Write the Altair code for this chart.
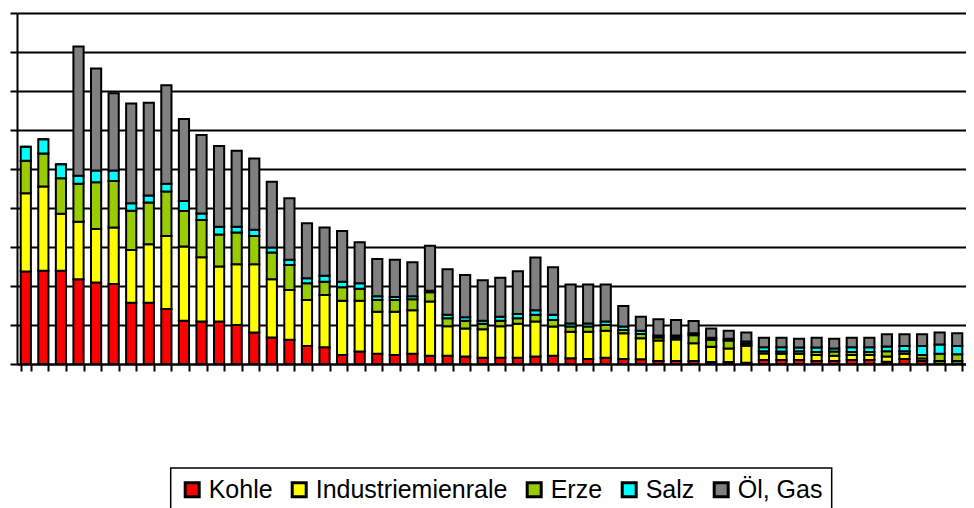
import altair as alt
import pandas as pd

kohle = [2.37, 2.39, 2.39, 2.17, 2.09, 2.05, 1.57, 1.57, 1.41, 1.11,
         1.09, 1.09, 1.00, 0.81, 0.68, 0.62, 0.46, 0.43, 0.23, 0.32,
         0.26, 0.23, 0.26, 0.21, 0.21, 0.19, 0.16, 0.16, 0.16, 0.19,
         0.21, 0.15, 0.13, 0.16, 0.13, 0.12, 0.08, 0.08, 0.08, 0.05,
         0.05, 0.03, 0.10, 0.10, 0.10, 0.08, 0.08, 0.10, 0.10, 0.06,
         0.13, 0.08, 0.01, 0.01]
industrie = [2.01, 2.16, 1.46, 1.48, 1.37, 1.45, 1.35, 1.50, 1.87, 1.90,
             1.65, 1.41, 1.56, 1.75, 1.49, 1.28, 1.18, 1.34, 1.39, 1.30,
             1.08, 1.11, 1.12, 1.39, 0.76, 0.72, 0.73, 0.81, 0.87, 0.90,
             0.75, 0.68, 0.70, 0.69, 0.66, 0.54, 0.52, 0.55, 0.45, 0.39,
             0.35, 0.44, 0.17, 0.16, 0.16, 0.15, 0.13, 0.13, 0.13, 0.13,
             0.13, 0.06, 0.07, 0.07]
erze = [0.83, 0.85, 0.91, 0.97, 1.20, 1.19, 1.01, 1.07, 1.14, 0.91,
        0.95, 0.82, 0.81, 0.72, 0.69, 0.64, 0.43, 0.34, 0.35, 0.31,
        0.30, 0.30, 0.28, 0.24, 0.20, 0.20, 0.14, 0.14, 0.14, 0.17,
        0.17, 0.13, 0.13, 0.15, 0.08, 0.11, 0.08, 0.05, 0.21, 0.18,
        0.20, 0.05, 0.06, 0.06, 0.07, 0.08, 0.11, 0.08, 0.08, 0.14,
        0.07, 0.09, 0.18, 0.17]
salz = [0.36, 0.36, 0.36, 0.21, 0.30, 0.27, 0.19, 0.18, 0.20, 0.26,
        0.17, 0.20, 0.15, 0.16, 0.13, 0.13, 0.13, 0.15, 0.14, 0.14,
        0.10, 0.08, 0.08, 0.04, 0.09, 0.09, 0.08, 0.10, 0.11, 0.12,
        0.13, 0.08, 0.08, 0.09, 0.09, 0.08, 0.05, 0.05, 0.05, 0.05,
        0.05, 0.06, 0.10, 0.11, 0.09, 0.11, 0.08, 0.12, 0.12, 0.12,
        0.13, 0.23, 0.24, 0.21]
oel_gas = [0.00, 0.00, 0.00, 3.31, 2.62, 1.98, 2.56, 2.38, 2.53, 2.10,
           2.01, 2.07, 1.95, 1.83, 1.68, 1.58, 1.41, 1.24, 1.30, 1.05,
           0.95, 0.95, 0.87, 1.15, 1.17, 1.08, 1.04, 1.00, 1.10, 1.35,
           1.22, 1.00, 1.00, 0.95, 0.53, 0.36, 0.42, 0.40, 0.31, 0.24,
           0.20, 0.23, 0.24, 0.24, 0.23, 0.25, 0.25, 0.24, 0.24, 0.31,
           0.30, 0.30, 0.31, 0.33]

series = ["Kohle", "Industriemienrale", "Erze", "Salz", "Öl, Gas"]
colors = ["#FF0000", "#FFFF00", "#99CC00", "#00FFFF", "#808080"]
outline = ["#000000"] * len(series)
y_ticks = [0, 1, 2, 3, 4, 5, 6, 7, 8, 9]

rows = []
for k, (name, vals) in enumerate(zip(series, [kohle, industrie, erze, salz, oel_gas])):
    for i, v in enumerate(vals):
        rows.append({"bar": i + 1, "series": name, "ord": k, "value": v})
df = pd.DataFrame(rows)

legend = alt.Legend(title=None, orient="none", legendX=153.7, legendY=455,
                    direction="horizontal", strokeColor="black", padding=9,
                    labelFont="Liberation Sans", labelFontSize=25,
                    labelColor="black", labelLimit=0, symbolType="square",
                    symbolSize=196, symbolStrokeWidth=3, symbolOpacity=1,
                    symbolStrokeColor="black",
                    labelOffset=4, columnPadding=13)

chart = alt.Chart(df).mark_bar(strokeWidth=2).encode(
    x=alt.X("bar:O",
            scale=alt.Scale(paddingInner=0.42, paddingOuter=0.21),
            axis=alt.Axis(labels=False, title=None, tickBand="extent", ticks=True,
                          tickSize=7, tickColor="black", tickWidth=2,
                          domainColor="black", domainWidth=2, grid=False)),
    y=alt.Y("value:Q", stack="zero",
            scale=alt.Scale(domain=[0, 9], nice=False),
            axis=alt.Axis(values=y_ticks, labels=False, title=None, tickSize=7,
                          tickColor="black", tickWidth=2, domainColor="black",
                          domainWidth=2, grid=True, gridColor="black",
                          gridWidth=2)),
    color=alt.Color("series:N", scale=alt.Scale(domain=series, range=colors),
                    legend=legend),
    stroke=alt.Stroke("series:N", scale=alt.Scale(domain=series, range=outline),
                      legend=legend),
    order=alt.Order("ord:Q", sort="ascending"),
).properties(
    width=949, height=351,
    autosize=alt.AutoSizeParams(type="none"),
    padding={"left": 9, "top": 5, "right": 0, "bottom": 144},
).configure_view(stroke=None).configure_legend(strokeWidth=1.5)

chart.save("out.html", embed_options={"renderer": "svg", "actions": False})
